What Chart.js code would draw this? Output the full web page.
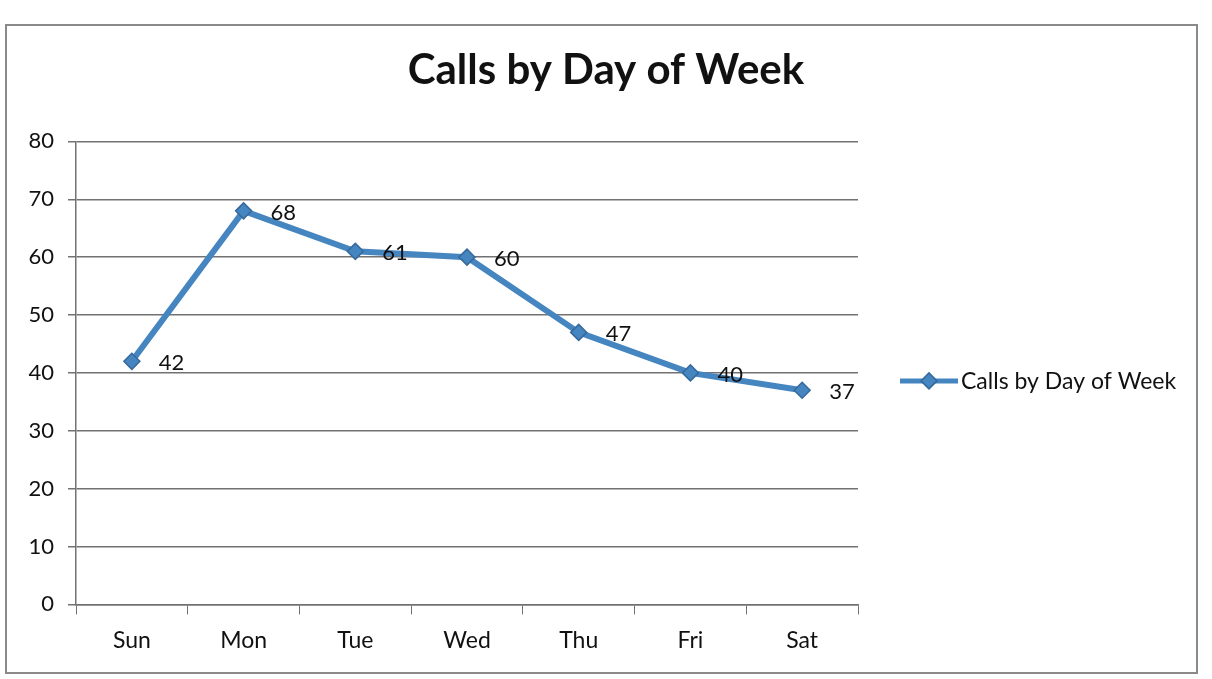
<!DOCTYPE html>
<html>
<head>
<meta charset="utf-8">
<script src="https://cdn.jsdelivr.net/npm/chart.js@4"></script>
<style>
  body { margin: 0; background: #fff; }
  #wrap { position: relative; width: 1212px; height: 679px; }
  #frame { position: absolute; left: 5px; top: 24px; width: 1193px; height: 650px; border: 2px solid #8a8a8a; box-sizing: border-box; }
  canvas { position: absolute; left: 0; top: 0; }
</style>
</head>
<body>
<div id="wrap">
  <div id="frame"></div>
  <canvas id="myChart" width="1212" height="679"></canvas>
</div>
<script>
const days = ['Sun', 'Mon', 'Tue', 'Wed', 'Thu', 'Fri', 'Sat'];
const calls = [42, 68, 61, 60, 47, 40, 37];
const yTicks = [0, 10, 20, 30, 40, 50, 60, 70, 80];

const lineColor = '#4585c0';
const edgeColor = '#36699c';
const gridColor = '#727272';
const font = 'Lato, "Open Sans", sans-serif';

// value labels next to each point + legend on the right
const extras = {
  id: 'extras',
  afterDatasetsDraw(chart) {
    const ctx = chart.ctx;
    const meta = chart.getDatasetMeta(0);
    ctx.save();
    ctx.font = '22px ' + font;
    ctx.fillStyle = '#111';
    ctx.textAlign = 'left';
    ctx.textBaseline = 'middle';
    meta.data.forEach((pt, i) => {
      ctx.fillText(calls[i], pt.x + 27, pt.y + 2);
    });

    // legend: line with a diamond, then the series name
    const area = chart.chartArea;
    const x0 = area.right + 42;
    const y0 = (area.top + area.bottom) / 2 + 8;
    ctx.strokeStyle = lineColor;
    ctx.lineWidth = 5;
    ctx.beginPath();
    ctx.moveTo(x0, y0);
    ctx.lineTo(x0 + 58, y0);
    ctx.stroke();
    ctx.fillStyle = lineColor;
    ctx.strokeStyle = edgeColor;
    ctx.lineWidth = 1.5;
    ctx.beginPath();
    ctx.moveTo(x0 + 29, y0 - 8);
    ctx.lineTo(x0 + 37, y0);
    ctx.lineTo(x0 + 29, y0 + 8);
    ctx.lineTo(x0 + 21, y0);
    ctx.closePath();
    ctx.fill();
    ctx.stroke();
    ctx.font = '23px ' + font;
    ctx.fillStyle = '#111';
    ctx.fillText(chart.data.datasets[0].label, x0 + 61, y0 + 1);
    ctx.restore();
  }
};

new Chart(document.getElementById('myChart'), {
  type: 'line',
  data: {
    labels: days,
    datasets: [{
      label: 'Calls by Day of Week',
      data: calls,
      borderColor: lineColor,
      borderWidth: 6,
      backgroundColor: lineColor,
      pointStyle: 'rectRot',
      pointRadius: 8,
      pointBorderColor: edgeColor,
      pointBorderWidth: 1.5,
      pointBackgroundColor: lineColor,
      tension: 0,
      fill: false
    }]
  },
  options: {
    responsive: false,
    animation: false,
    layout: { padding: { left: 12, right: 12, top: 45, bottom: 13 } },
    plugins: {
      title: {
        display: true,
        text: 'Calls by Day of Week',
        color: '#111',
        font: { family: font, size: 42, weight: 'bold' },
        padding: { top: 0, bottom: 46 }
      },
      legend: { display: false },
      tooltip: { enabled: false }
    },
    scales: {
      x: {
        offset: true,
        grid: {
          offset: true,
          drawOnChartArea: false,
          color: gridColor,
          tickLength: 10
        },
        border: { color: gridColor, width: 1.5 },
        ticks: { color: '#111', font: { family: font, size: 23 }, padding: 12 }
      },
      y: {
        min: 0,
        max: 80,
        afterBuildTicks(axis) {
          axis.ticks = yTicks.map(v => ({ value: v }));
        },
        afterFit(axis) { axis.width = 64; },
        grid: { color: gridColor, lineWidth: 1.5, tickLength: 8 },
        border: { color: gridColor, width: 1.5 },
        ticks: { color: '#111', font: { family: font, size: 22 }, padding: 14 }
      },
      // empty right-hand axis that reserves room for the legend
      side: {
        position: 'right',
        afterFit(axis) { axis.width = 342; },
        grid: { display: false },
        border: { display: false },
        ticks: { display: false }
      }
    }
  },
  plugins: [extras]
});
</script>
</body>
</html>
